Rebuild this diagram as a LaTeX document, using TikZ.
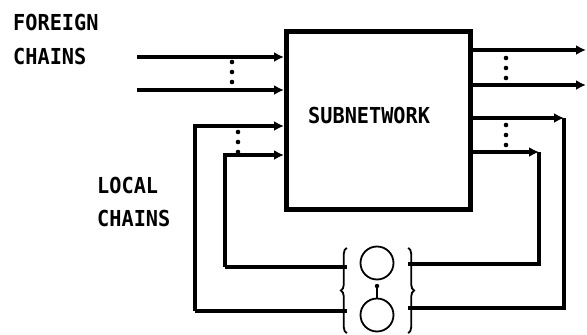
\documentclass[tikz,border=0pt]{standalone}
\usepackage{fontspec}
\newfontfamily\lbl[FakeStretch=0.92]{DejaVu Sans Mono}
\usetikzlibrary{arrows.meta,decorations.pathreplacing}
\begin{document}
\begin{tikzpicture}[x=1pt,y=-1pt,
  ln/.style={line width=3.2pt},
  arr/.style={line width=3.2pt,-{Latex[length=10pt,width=10pt]}},
  txt/.style={font=\lbl\bfseries\fontsize{22}{26}\selectfont,inner sep=0pt,anchor=base west},
  dotc/.style={circle,fill,inner sep=0pt,minimum size=4.5pt},
  ring/.style={circle,draw,line width=1.8pt,inner sep=0pt,minimum size=33pt},
  br/.style={line width=1.8pt,decorate,decoration={brace,amplitude=6pt}}]
\useasboundingbox (0,0) rectangle (587,335);
% subnetwork box
\node[draw,line width=5pt,minimum width=184pt,minimum height=178pt,inner sep=0pt] (sub) at (378.5,120) {};
\node[txt] (subl) at (308,123) {SUBNETWORK};
% labels
\node[txt] (f1) at (13,30) {FOREIGN};
\node[txt] (f2) at (13,64) {CHAINS};
\node[txt] (l1) at (97,193) {LOCAL};
\node[txt] (l2) at (97,226) {CHAINS};
% selector with braces and circles
\node[minimum width=61pt,minimum height=85pt,inner sep=0pt] (q) at (377.5,290.5) {};
\draw[br] (q.south west) -- (q.north west);
\draw[br] (q.north east) -- (q.south east);
\node[ring] (c1) at (377,263) {};
\node[ring] (c2) at (377,315) {};
\node[dotc] (dt) at (377,286) {};
\draw[line width=1.8pt] (dt) -- (c2.north);
% foreign inputs
\coordinate (fi1) at (137,57);
\coordinate (fi2) at (137,90);
\draw[arr] (fi1) -- (fi1 -| sub.west);
\draw[arr] (fi2) -- (fi2 -| sub.west);
% foreign outputs
\coordinate (fo1) at (586,50);
\coordinate (fo2) at (586,85);
\draw[arr] (fo1 -| sub.east) -- (fo1);
\draw[arr] (fo2 -| sub.east) -- (fo2);
% local loops, left side
\coordinate (lo) at (195,311);
\coordinate (li) at (225,267);
\draw[ln] (q.west |- lo) -- (lo);
\draw[arr] (lo) -- (195,126) -- (sub.west |- 0,126);
\draw[ln] (q.west |- li) -- (li);
\draw[arr] (li) -- (225,155) -- (sub.west |- 0,155);
% local loops, right side
\coordinate (ro) at (564,118);
\coordinate (ri) at (539,152);
\draw[arr] (sub.east |- ro) -- (ro);
\draw[ln] (ro) -- (564,308) -- (q.east |- 0,308);
\draw[arr] (sub.east |- ri) -- (ri);
\draw[ln] (ri) -- (539,264) -- (q.east |- 0,264);
% ellipsis dots
\foreach \x/\y in {232/62,232/72,232/82, 238/132,238/142,238/152, 506/58,506/68,506/78, 506/125,506/135,506/145}
  \fill (\x,\y) circle (2.3pt);
\end{tikzpicture}
\end{document}
